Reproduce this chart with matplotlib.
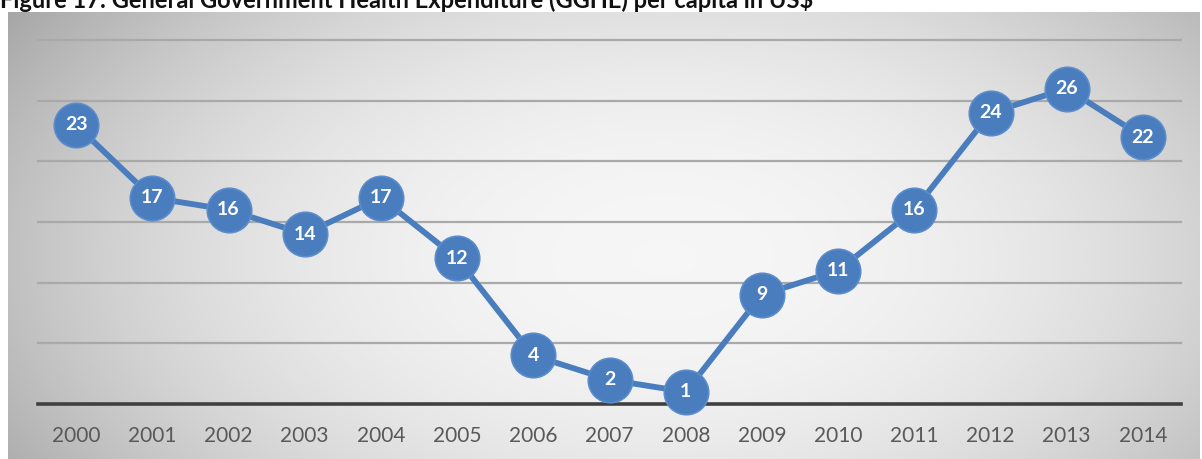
import numpy as np
import matplotlib
matplotlib.use("Agg")
import matplotlib.pyplot as plt

years = ["2000", "2001", "2002", "2003", "2004", "2005", "2006", "2007",
         "2008", "2009", "2010", "2011", "2012", "2013", "2014"]
gghe = [23, 17, 16, 14, 17, 12, 4, 2, 1, 9, 11, 16, 24, 26, 22]
title = "Figure 17: General Government Health Expenditure (GGHE) per capita in US$"

W, H = 1202, 459
fig = plt.figure(figsize=(W / 100, H / 100), dpi=100)

# background gradient panel
bx0, by0, bx1, by1 = 8, 12, 1200, 459
bg = fig.add_axes([bx0 / W, 1 - by1 / H, (bx1 - bx0) / W, (by1 - by0) / H])
nx, ny = 400, 150
xx, yy = np.meshgrid(np.linspace(-1, 1, nx), np.linspace(-1, 1, ny))
r = np.sqrt(((xx - 0.1) / 1.05) ** 2 + ((yy - 0.1) / 1.6) ** 2)
val = 0.965 - 0.19 * np.clip(r, 0, 1.3) ** 2.2
img = np.dstack([val, val, val])
bg.imshow(img, aspect="auto", extent=[0, 1, 0, 1], interpolation="bilinear")
bg.set_axis_off()

# plot axes
px0, px1 = 38, 1181
py_top, py_bot = 40, 404
ax = fig.add_axes([px0 / W, 1 - py_bot / H, (px1 - px0) / W, (py_bot - py_top) / H])
ax.patch.set_alpha(0)
x = np.arange(len(years))
ax.set_xlim(-0.5, len(years) - 0.5)
ax.set_ylim(0, 30)
for v in [5, 10, 15, 20, 25, 30]:
    ax.axhline(v, color="#a9a9a9", lw=1.6, zorder=1, clip_on=False)
ax.axhline(0, color="#404040", lw=2.6, zorder=2, clip_on=False)
for s in ax.spines.values():
    s.set_visible(False)
ax.set_yticks([])
ax.set_xticks(x)
ax.set_xticklabels(years, fontsize=15, color="#595959", family="Lato")
ax.tick_params(axis="x", length=0, pad=16)

ax.plot(x, gghe, color="#4a7dbd", lw=4.2, zorder=3, solid_capstyle="round")
ax.plot(x, gghe, "o", ms=32, color="#4a7dbd", mec="#5b8ccb", mew=1.2, zorder=4, clip_on=False)
for xi, v in zip(x, gghe):
    ax.text(xi, v, str(v), ha="center", va="center", color="white",
            fontsize=14, fontweight="bold", family="Lato", zorder=5)

fig.text(0.0, 1 - 8 / H, title, ha="left", va="baseline", fontsize=17,
         fontweight="bold", family="Lato", color="#111111")

fig.savefig("out.png", dpi=100, facecolor="white")
